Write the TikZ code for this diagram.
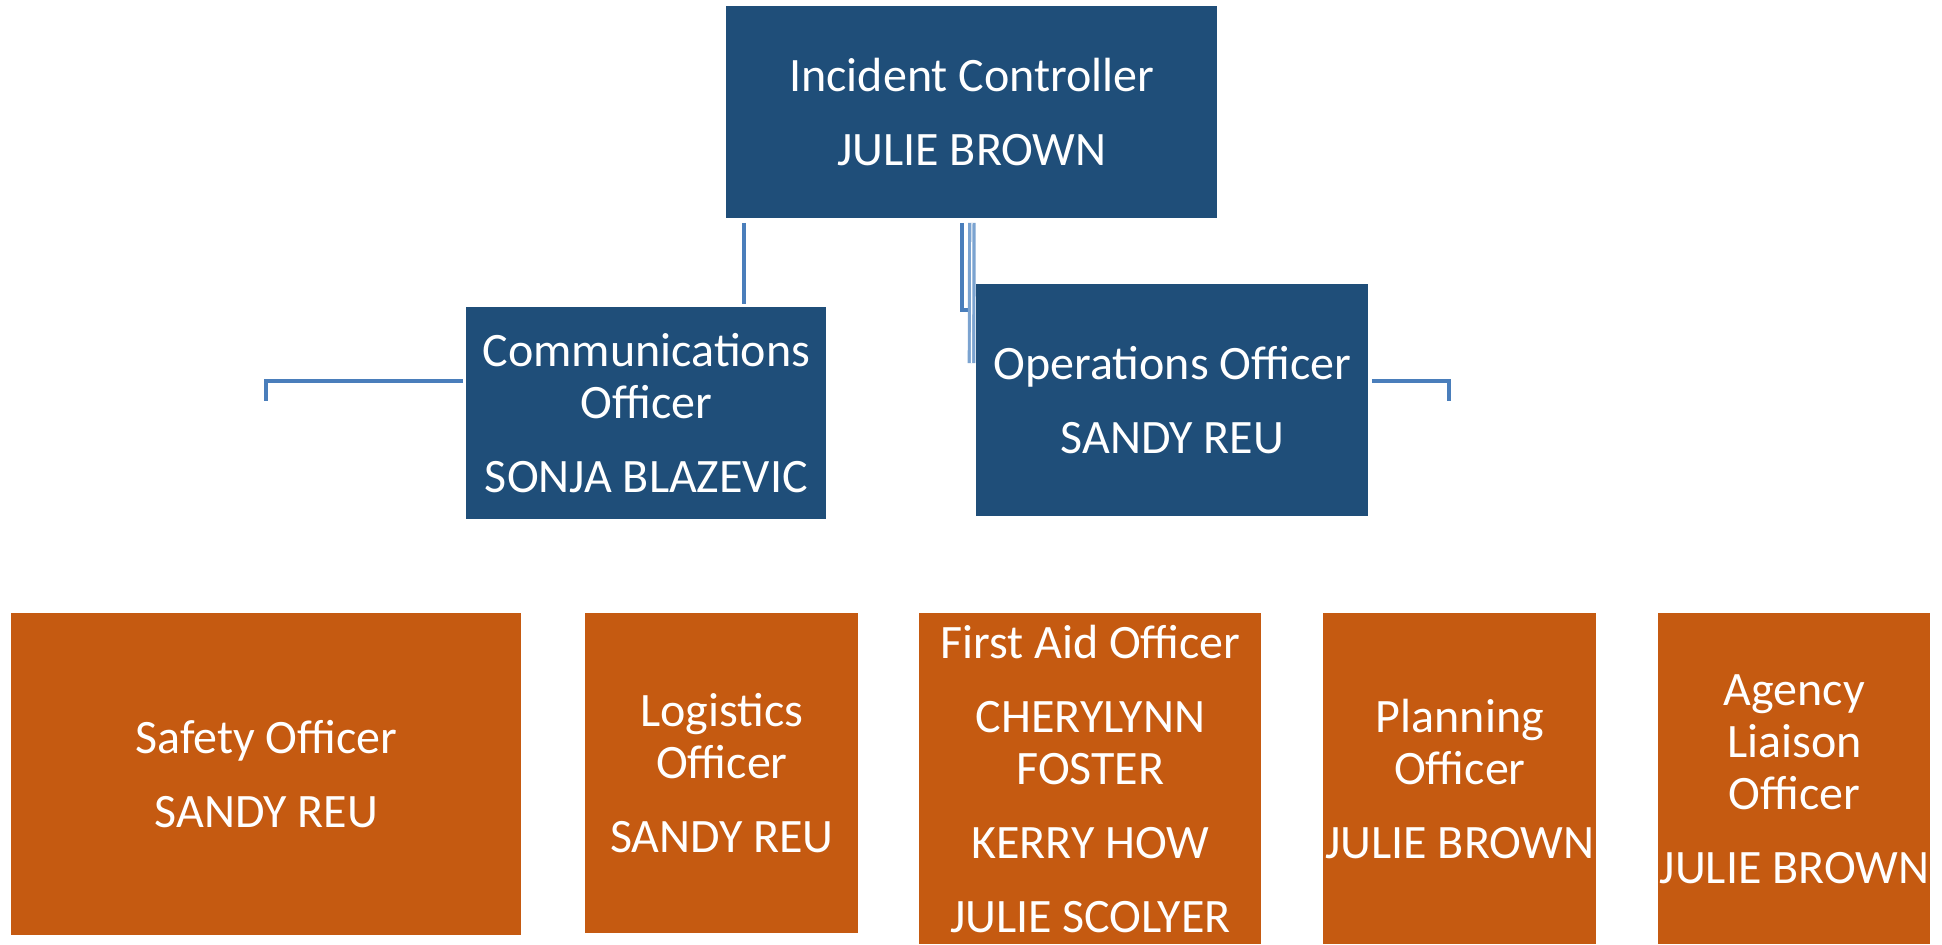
\documentclass[tikz,border=0pt]{standalone}
\usepackage{fontspec}
\setmainfont{Carlito}
\definecolor{boxblue}{HTML}{1F4E79}
\definecolor{boxorange}{HTML}{C55A11}
\definecolor{linkblue}{HTML}{4A7EBB}
\definecolor{linklight}{HTML}{7BA3D0}
\newcommand{\orgfont}{\fontsize{24}{26}\selectfont}
\tikzset{
    role/.style={anchor=north west,inner sep=0pt,align=center,text=white,font=\orgfont},
    chief/.style={role,fill=boxblue},
    team/.style={role,fill=boxorange},
    link/.style={linkblue,line width=2pt},
    linkdouble/.style={linklight,line width=1.6pt,double=white,double distance=0.6pt}
}
\begin{document}
\begin{tikzpicture}[x=0.5pt,y=-0.5pt]
        \useasboundingbox (0,0) rectangle (1942,944);
        \node[chief,minimum width=245.5pt,minimum height=106pt] (ic) at (726,6) {Incident Controller\\[11pt]JULIE BROWN};
        \node[chief,minimum width=180pt,minimum height=106pt] (cm) at (466,307) {Communications\\Officer\\[11pt]SONJA BLAZEVIC};
        \node[chief,minimum width=196pt,minimum height=116pt] (op) at (976,284) {Operations Officer\\[11pt]SANDY REU};
        \node[team,minimum width=255pt,minimum height=161pt] (sf) at (11,613) {Safety Officer\\[11pt]SANDY REU};
        \node[team,minimum width=136.5pt,minimum height=160pt] (lg) at (585,613) {Logistics\\Officer\\[11pt]SANDY REU};
        \node[team,minimum width=171pt,minimum height=165.5pt] (fa) at (919,613) {First Aid Officer\\[11pt]CHERYLYNN\\FOSTER\\[11pt]KERRY HOW\\[11pt]JULIE SCOLYER};
        \node[team,minimum width=136.5pt,minimum height=165.5pt] (pl) at (1323,613) {Planning\\Officer\\[11pt]JULIE BROWN};
        \node[team,minimum width=136pt,minimum height=165.5pt] (al) at (1658,613) {Agency\\Liaison\\Officer\\[11pt]JULIE BROWN};
        % connectors below the controller
        \coordinate (cx) at (744,0);
        \coordinate (obend) at (962,310);
        \coordinate (oend) at (970,310);
        \coordinate (dend) at (971.5,363);
        \draw[link,shorten <=2pt,shorten >=1.5pt] (ic.south -| cx) -- (cm.north -| cx);
        \draw[link,shorten <=2pt] (ic.south -| obend) -- (obend) -- (oend);
        \draw[linkdouble,shorten <=2pt] (ic.south) -- (dend);
        % open brackets beside the officers
        \coordinate (lcorner) at (266,381);
        \coordinate (lend) at (266,401);
        \coordinate (rcorner) at (1449,381);
        \coordinate (rend) at (1449,401);
        \draw[link,shorten <=1.5pt] (cm.west |- lcorner) -- (lcorner) -- (lend);
        \draw[link,shorten <=1.5pt] (op.east |- rcorner) -- (rcorner) -- (rend);
\end{tikzpicture}
\end{document}
